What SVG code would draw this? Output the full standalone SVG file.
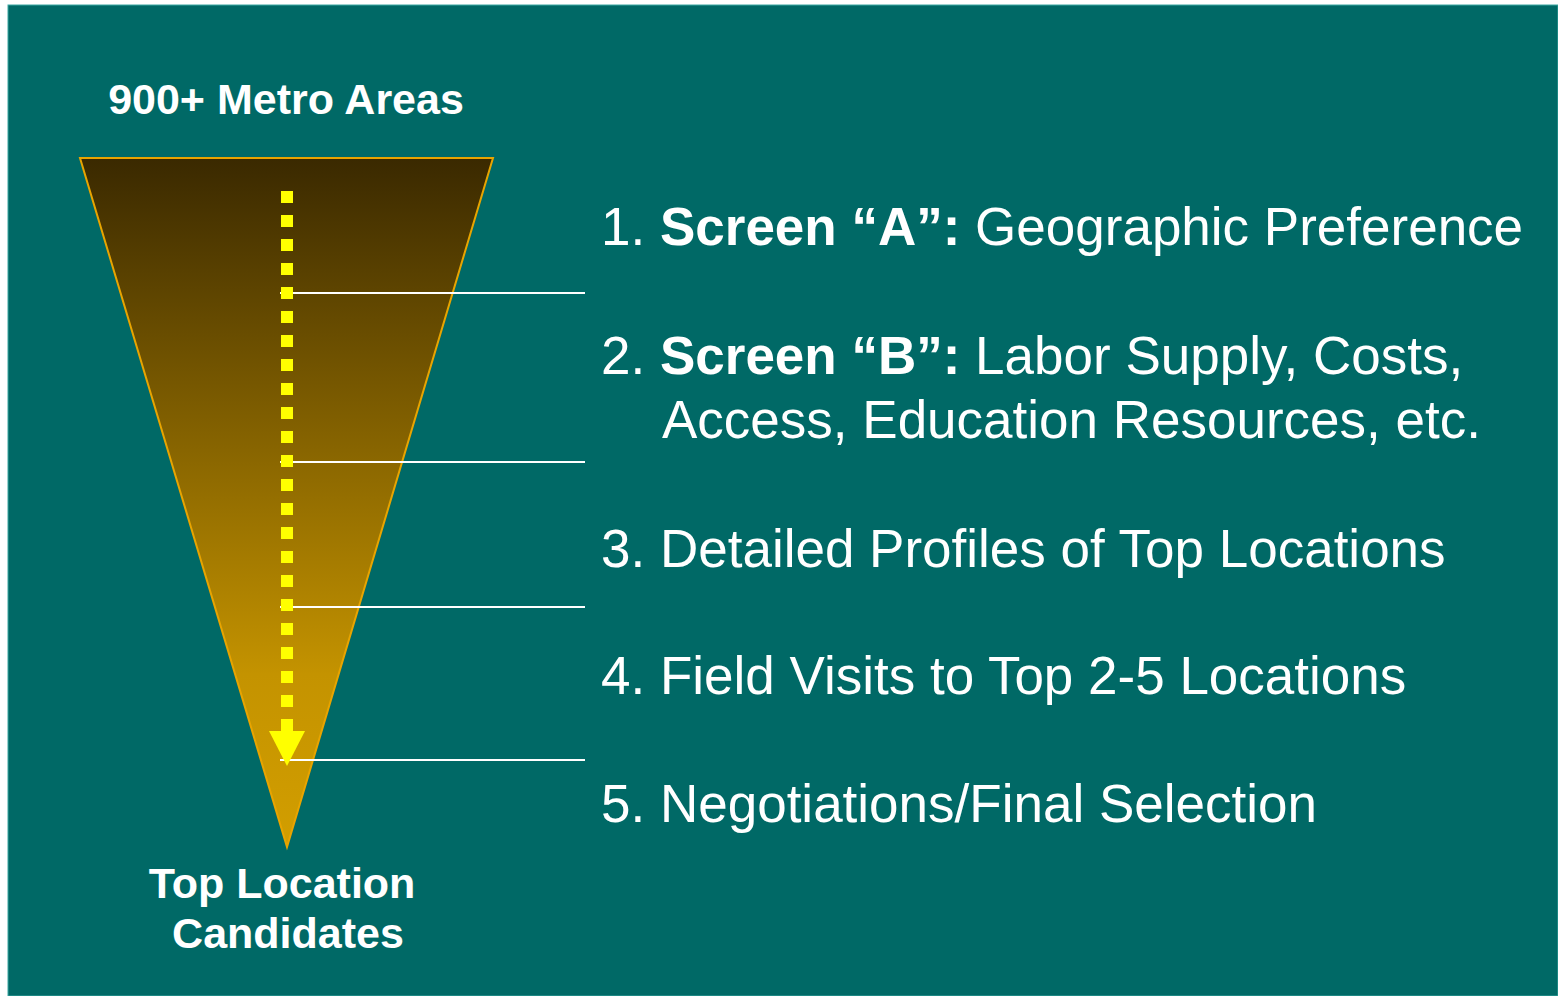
<svg xmlns="http://www.w3.org/2000/svg" width="1558" height="996" viewBox="0 0 1558 996">
<style>
.lbl{font-family:"Liberation Sans",Arial,sans-serif;fill:#ffffff;}
.b{font-weight:bold;}
.step{font-size:53px;}
.cap{font-size:43px;font-weight:bold;text-anchor:middle;}
.conn{stroke:#ffffff;stroke-width:2;fill:none;}
</style>
<defs>
<linearGradient id="fg" x1="0" y1="0" x2="0" y2="1">
<stop offset="0" stop-color="#3a2900"/>
<stop offset="0.75" stop-color="#c49300"/>
<stop offset="1" stop-color="#d29e00"/>
</linearGradient>
</defs>
<rect x="0" y="0" width="1558" height="996" fill="#ffffff"/>
<rect x="8" y="5" width="1550" height="991" fill="#006966" stroke="#3aa8a2" stroke-width="1"/>
<g id="funnel">
<polygon points="80,158 493,158 287,847" fill="url(#fg)" stroke="#e8a400" stroke-width="2"/>
</g>
<g id="connectors">
<line class="conn" x1="280" y1="293" x2="585" y2="293"/>
<line class="conn" x1="280" y1="462" x2="585" y2="462"/>
<line class="conn" x1="280" y1="607" x2="585" y2="607"/>
<line class="conn" x1="280" y1="760" x2="585" y2="760"/>
</g>
<g id="arrow">
<line x1="287" y1="191" x2="287" y2="731" stroke="#ffff00" stroke-width="12" stroke-dasharray="12 12"/>
<polygon points="269,731 305,731 287,766" fill="#ffff00"/>
</g>
<g id="top-label"><text class="lbl cap" x="286" y="114">900+ Metro Areas</text></g>
<g id="bottom-label">
<text class="lbl cap" x="282" y="898">Top Location</text>
<text class="lbl cap" x="288" y="948">Candidates</text>
</g>
<g id="step1"><text class="lbl step" x="601" y="245">1. <tspan class="b">Screen “A”:</tspan> Geographic Preference</text></g>
<g id="step2">
<text class="lbl step" x="601" y="374">2. <tspan class="b">Screen “B”:</tspan> Labor Supply, Costs,</text>
<text class="lbl step" x="662" y="438">Access, Education Resources, etc.</text>
</g>
<g id="step3"><text class="lbl step" x="601" y="567">3. Detailed Profiles of Top Locations</text></g>
<g id="step4"><text class="lbl step" x="601" y="694">4. Field Visits to Top 2-5 Locations</text></g>
<g id="step5"><text class="lbl step" x="601" y="822">5. Negotiations/Final Selection</text></g>
</svg>
